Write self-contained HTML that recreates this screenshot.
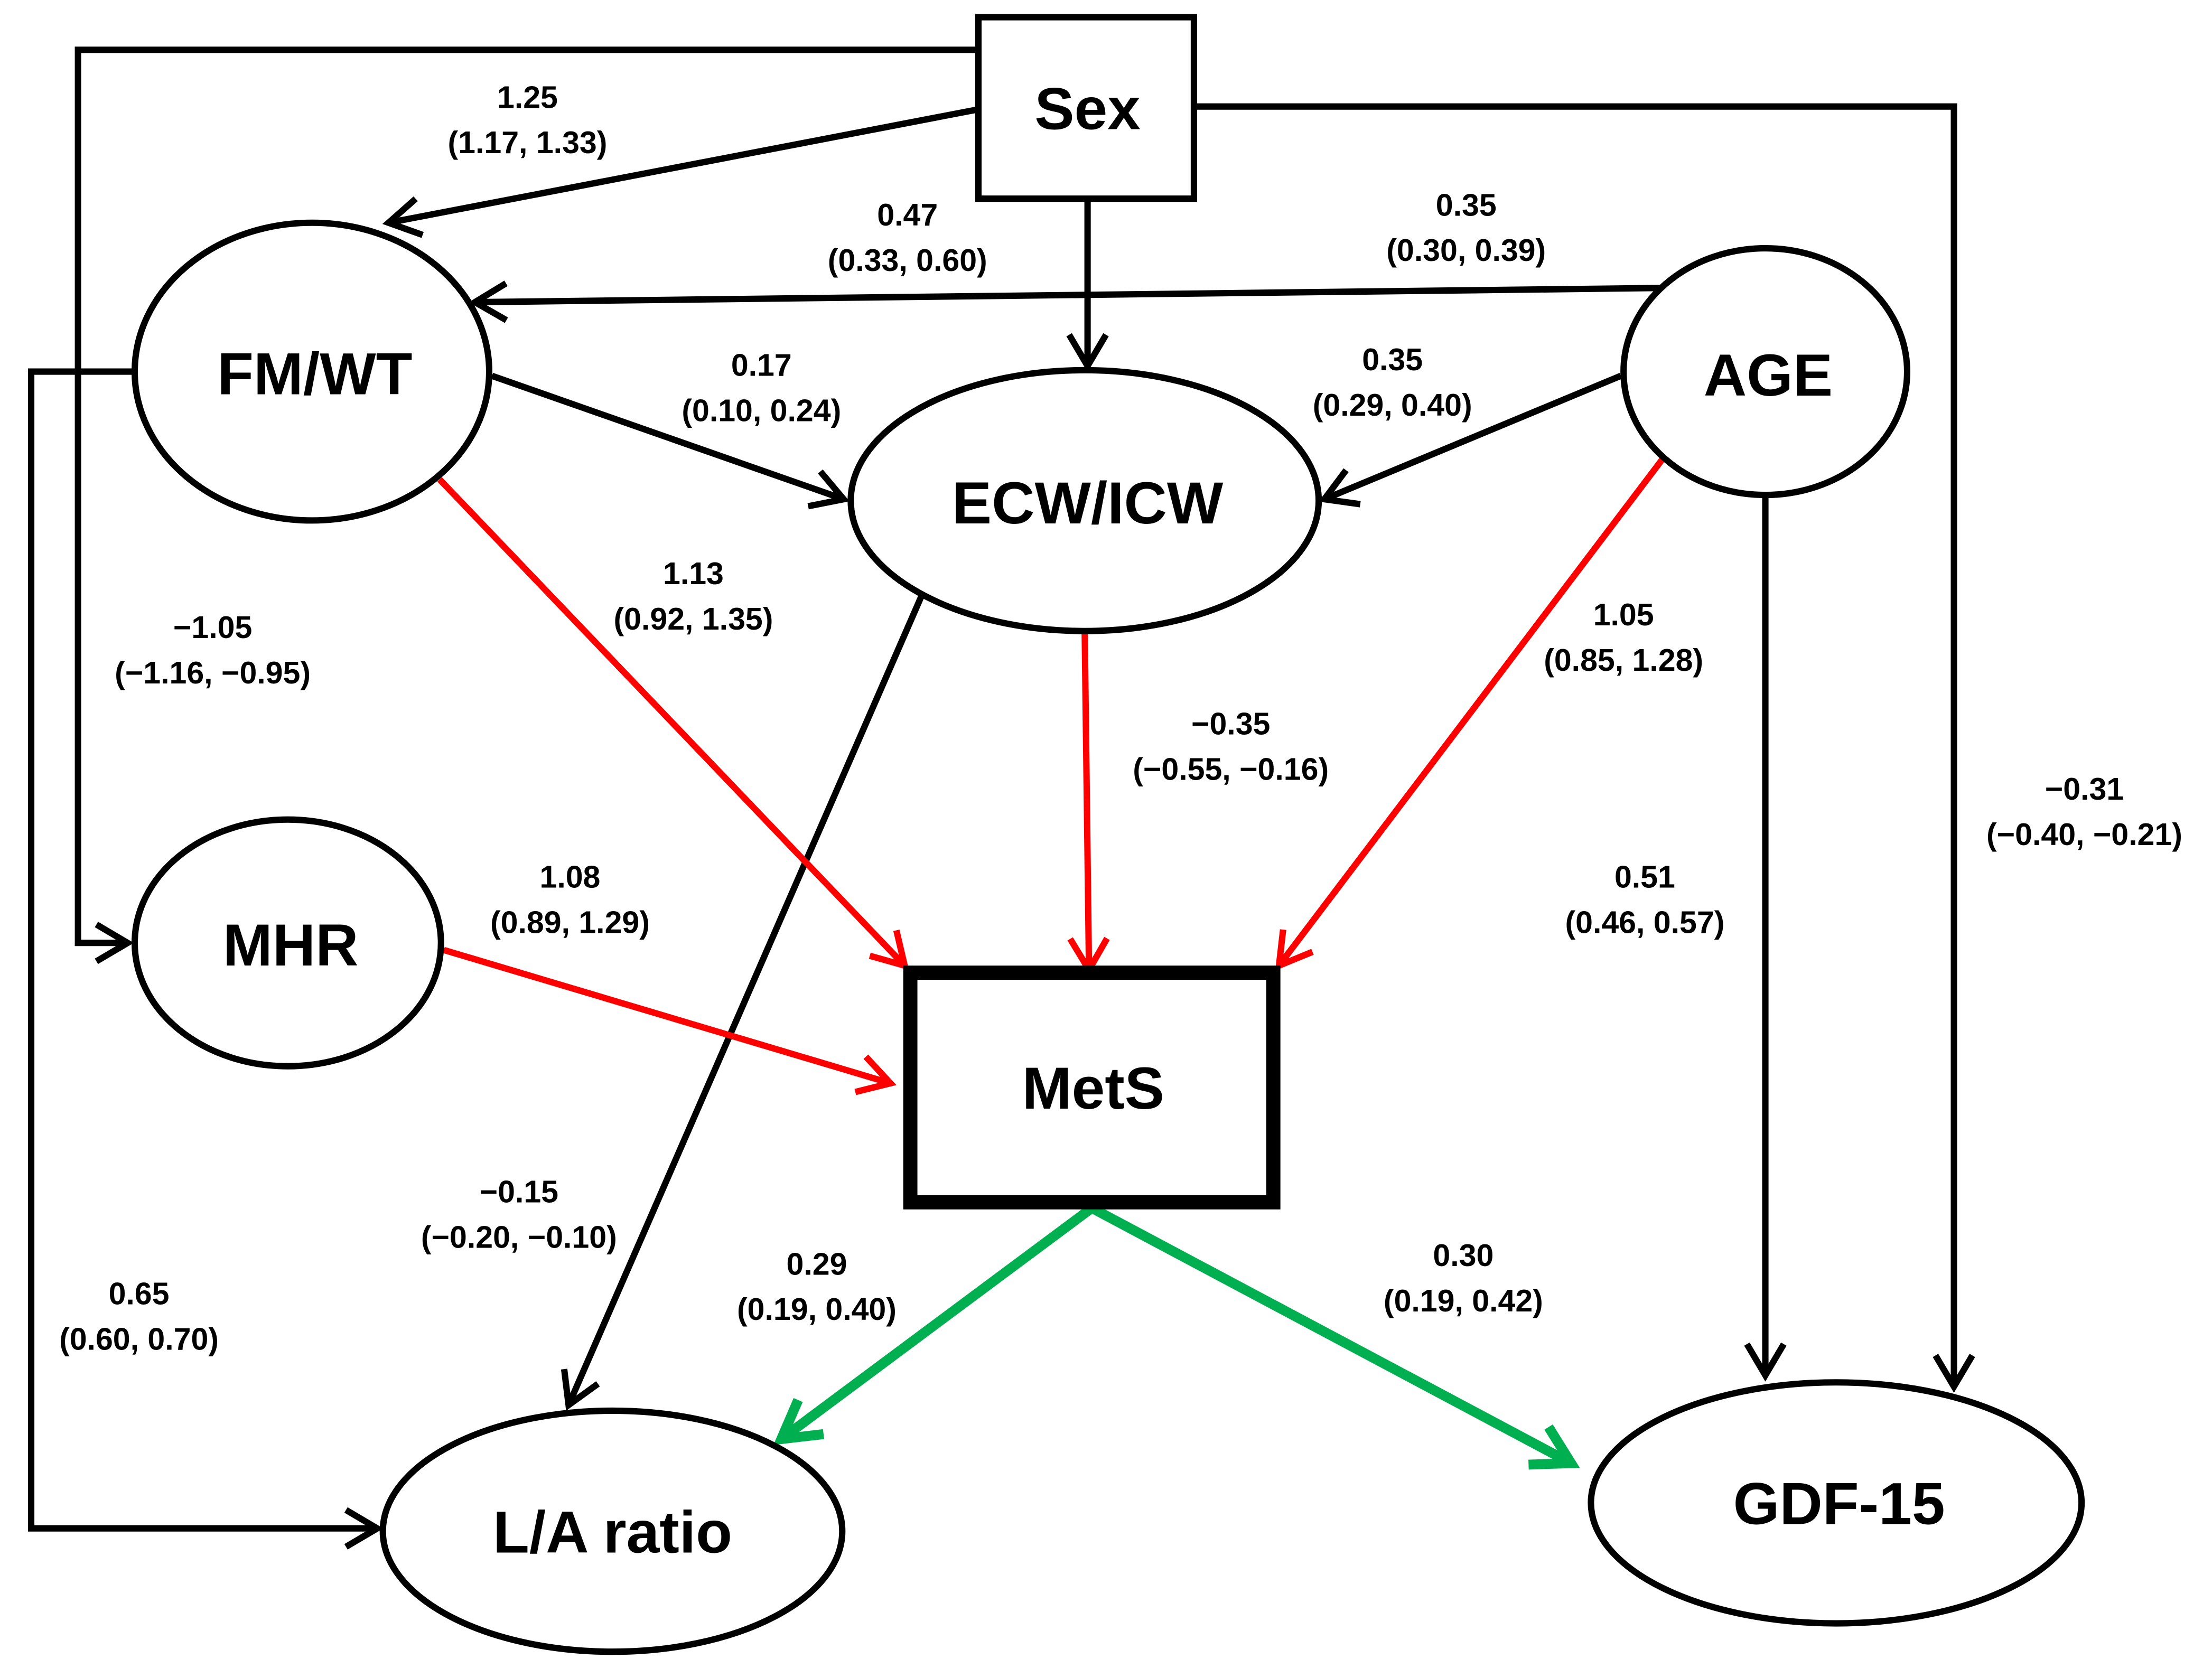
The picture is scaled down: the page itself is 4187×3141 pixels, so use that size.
<!DOCTYPE html>
<html><head><meta charset="utf-8"><style>
html,body{margin:0;padding:0;background:#fff;}
svg{display:block;}
text{font-family:"Liberation Sans",sans-serif;font-weight:bold;text-anchor:middle;}
.n{font-size:42px;}
.l{font-size:22px;}
</style></head><body>
<svg width="4187" height="3141" viewBox="0 0 1560 1170" xmlns="http://www.w3.org/2000/svg">
<defs>
<marker id="ab" markerWidth="10" markerHeight="10" refX="8" refY="5" orient="auto" markerUnits="userSpaceOnUse" viewBox="0 0 10 10" style="overflow:visible">
<path d="M-14,-8 L8,5 L-14,18" fill="none" stroke="#000" stroke-width="4.5"/>
</marker>
<marker id="ar" markerWidth="10" markerHeight="10" refX="8" refY="5" orient="auto" markerUnits="userSpaceOnUse" viewBox="0 0 10 10" style="overflow:visible">
<path d="M-14,-8 L8,5 L-14,18" fill="none" stroke="#ff0000" stroke-width="4.5"/>
</marker>
<marker id="ag" markerWidth="10" markerHeight="10" refX="8" refY="5" orient="auto" markerUnits="userSpaceOnUse" viewBox="0 0 10 10" style="overflow:visible">
<path d="M-18,-10 L8,5 L-18,20" fill="none" stroke="#00b050" stroke-width="7"/>
</marker>
</defs>
<g fill="none" stroke="#000" stroke-width="4.5">
<polyline points="690,35 55,35 55,665 90,665" marker-end="url(#ab)"/>
<line x1="690" y1="77" x2="274" y2="157" marker-end="url(#ab)"/>
<line x1="767" y1="140" x2="767" y2="258" marker-end="url(#ab)"/>
<polyline points="842,75 1378,75 1378,978" marker-end="url(#ab)"/>
<line x1="1172" y1="203" x2="335" y2="213" marker-end="url(#ab)"/>
<polyline points="95,262 22,262 22,1078 266,1078" marker-end="url(#ab)"/>
<line x1="347" y1="265" x2="595" y2="352" marker-end="url(#ab)"/>
<line x1="1143" y1="265" x2="934" y2="352" marker-end="url(#ab)"/>
<line x1="1245" y1="350" x2="1245" y2="970" marker-end="url(#ab)"/>
<line x1="650" y1="420" x2="401" y2="991" marker-end="url(#ab)"/>
</g>
<g fill="none" stroke="#ff0000" stroke-width="4.5">
<line x1="310" y1="338" x2="638" y2="681" marker-end="url(#ar)"/>
<line x1="765" y1="447" x2="768" y2="684" marker-end="url(#ar)"/>
<line x1="1173" y1="323" x2="902" y2="681" marker-end="url(#ar)"/>
<line x1="313" y1="670" x2="628" y2="764" marker-end="url(#ar)"/>
</g>
<g fill="none" stroke="#00b050" stroke-width="7">
<line x1="770" y1="852" x2="551" y2="1015" marker-end="url(#ag)"/>
<line x1="770" y1="852" x2="1108" y2="1032" marker-end="url(#ag)"/>
</g>
<g fill="#fff" stroke="#000" stroke-width="4.5">
<rect x="690" y="12" width="152" height="128"/>
<ellipse cx="220" cy="262" rx="125" ry="105"/>
<ellipse cx="1245" cy="262" rx="100" ry="87"/>
<ellipse cx="765" cy="353" rx="165" ry="92"/>
<ellipse cx="203" cy="665" rx="108" ry="87"/>
<ellipse cx="432" cy="1080" rx="162" ry="85"/>
<ellipse cx="1295" cy="1060" rx="173" ry="85"/>
<rect x="642" y="686" width="256" height="162" stroke-width="10"/>
</g>
<text class="n" x="767" y="91">Sex</text>
<text class="n" x="222" y="278">FM/WT</text>
<text class="n" x="1247" y="279">AGE</text>
<text class="n" x="767" y="369">ECW/ICW</text>
<text class="n" x="205" y="681">MHR</text>
<text class="n" x="771" y="782">MetS</text>
<text class="n" x="432" y="1095">L/A ratio</text>
<text class="n" x="1297" y="1075">GDF-15</text>
<g>
<text class="l" x="372" y="76">1.25</text><text class="l" x="372" y="108">(1.17, 1.33)</text>
<text class="l" x="640" y="159">0.47</text><text class="l" x="640" y="191">(0.33, 0.60)</text>
<text class="l" x="1034" y="152">0.35</text><text class="l" x="1034" y="184">(0.30, 0.39)</text>
<text class="l" x="537" y="265">0.17</text><text class="l" x="537" y="297">(0.10, 0.24)</text>
<text class="l" x="982" y="261">0.35</text><text class="l" x="982" y="293">(0.29, 0.40)</text>
<text class="l" x="489" y="412">1.13</text><text class="l" x="489" y="444">(0.92, 1.35)</text>
<text class="l" x="1145" y="441">1.05</text><text class="l" x="1145" y="473">(0.85, 1.28)</text>
<text class="l" x="150" y="450">−1.05</text><text class="l" x="150" y="482">(−1.16, −0.95)</text>
<text class="l" x="868" y="518">−0.35</text><text class="l" x="868" y="550">(−0.55, −0.16)</text>
<text class="l" x="1470" y="564">−0.31</text><text class="l" x="1470" y="596">(−0.40, −0.21)</text>
<text class="l" x="402" y="626">1.08</text><text class="l" x="402" y="658">(0.89, 1.29)</text>
<text class="l" x="1160" y="626">0.51</text><text class="l" x="1160" y="658">(0.46, 0.57)</text>
<text class="l" x="366" y="848">−0.15</text><text class="l" x="366" y="880">(−0.20, −0.10)</text>
<text class="l" x="576" y="899">0.29</text><text class="l" x="576" y="931">(0.19, 0.40)</text>
<text class="l" x="1032" y="893">0.30</text><text class="l" x="1032" y="925">(0.19, 0.42)</text>
<text class="l" x="98" y="920">0.65</text><text class="l" x="98" y="952">(0.60, 0.70)</text>
</g>
</svg>
</body></html>
